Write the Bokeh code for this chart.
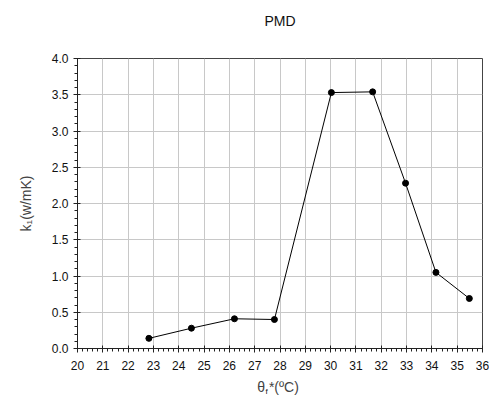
from bokeh.plotting import figure
from bokeh.models import Range1d, FixedTicker, Label, PrintfTickFormatter, Title
from bokeh.embed import file_html
from bokeh.resources import INLINE

theta_f = [22.82, 24.50, 26.20, 27.78, 30.03, 31.66, 32.96, 34.16, 35.48]
k1 = [0.14, 0.28, 0.41, 0.40, 3.53, 3.54, 2.28, 1.05, 0.69]
x_ticks = list(range(20, 37))
y_ticks = [0.0, 0.5, 1.0, 1.5, 2.0, 2.5, 3.0, 3.5, 4.0]

FONT = "Liberation Sans"

p = figure(width=489, height=406, output_backend="svg", toolbar_location=None,
           x_range=Range1d(20, 36), y_range=Range1d(0, 4), title=None,
           min_border_left=77, min_border_right=7, min_border_top=58, min_border_bottom=58)

# spacer between title and frame, then the title itself (outermost)
p.add_layout(Title(text=" ", text_font=FONT, text_font_size="21px", standoff=0), "above")
p.add_layout(Title(text="PMD", align="center", text_font=FONT, text_font_size="14px",
                   text_font_style="normal", text_color="#111111"), "above")

p.outline_line_color = "#444444"
p.outline_line_width = 1

p.xaxis.ticker = FixedTicker(ticks=x_ticks, minor_ticks=[20 + i * 0.2 for i in range(81)])
p.yaxis.ticker = FixedTicker(ticks=y_ticks, minor_ticks=[i * 0.1 for i in range(41)])
p.yaxis.formatter = PrintfTickFormatter(format="%.1f")

for ax in (p.xaxis, p.yaxis):
    ax.axis_line_color = "#222222"
    ax.major_tick_line_color = "#222222"
    ax.minor_tick_line_color = "#222222"
    ax.major_tick_in = 3
    ax.major_tick_out = 4
    ax.minor_tick_in = 0
    ax.minor_tick_out = 3
    ax.major_label_text_font = FONT
    ax.major_label_text_font_size = "12px"
    ax.major_label_text_color = "#111111"
    ax.axis_label_text_font = FONT
    ax.axis_label_text_font_size = "14px"
    ax.axis_label_text_font_style = "normal"

p.xaxis.major_label_standoff = 8
p.yaxis.major_label_standoff = 5
p.yaxis.axis_label = "k₁(w/mK)"
p.yaxis.axis_label_standoff = 15
p.xaxis.axis_label = "θ  *(ºC)"
p.xaxis.axis_label_standoff = 6

p.xgrid.ticker = FixedTicker(ticks=x_ticks)
p.ygrid.ticker = FixedTicker(ticks=y_ticks)
p.grid.grid_line_color = "#c8c8c8"
p.grid.grid_line_width = 1

p.line(theta_f, k1, line_color="black", line_width=1)
p.scatter(theta_f, k1, size=6, color="black")

# subscript f of the x axis label, in the panel below the axis
p.add_layout(Label(x=188, y=11, x_units="screen", y_units="screen", text="f",
                   text_font=FONT, text_font_size="8px", text_color="#111111"), "below")

open("out.html", "w").write(file_html(p, INLINE))
